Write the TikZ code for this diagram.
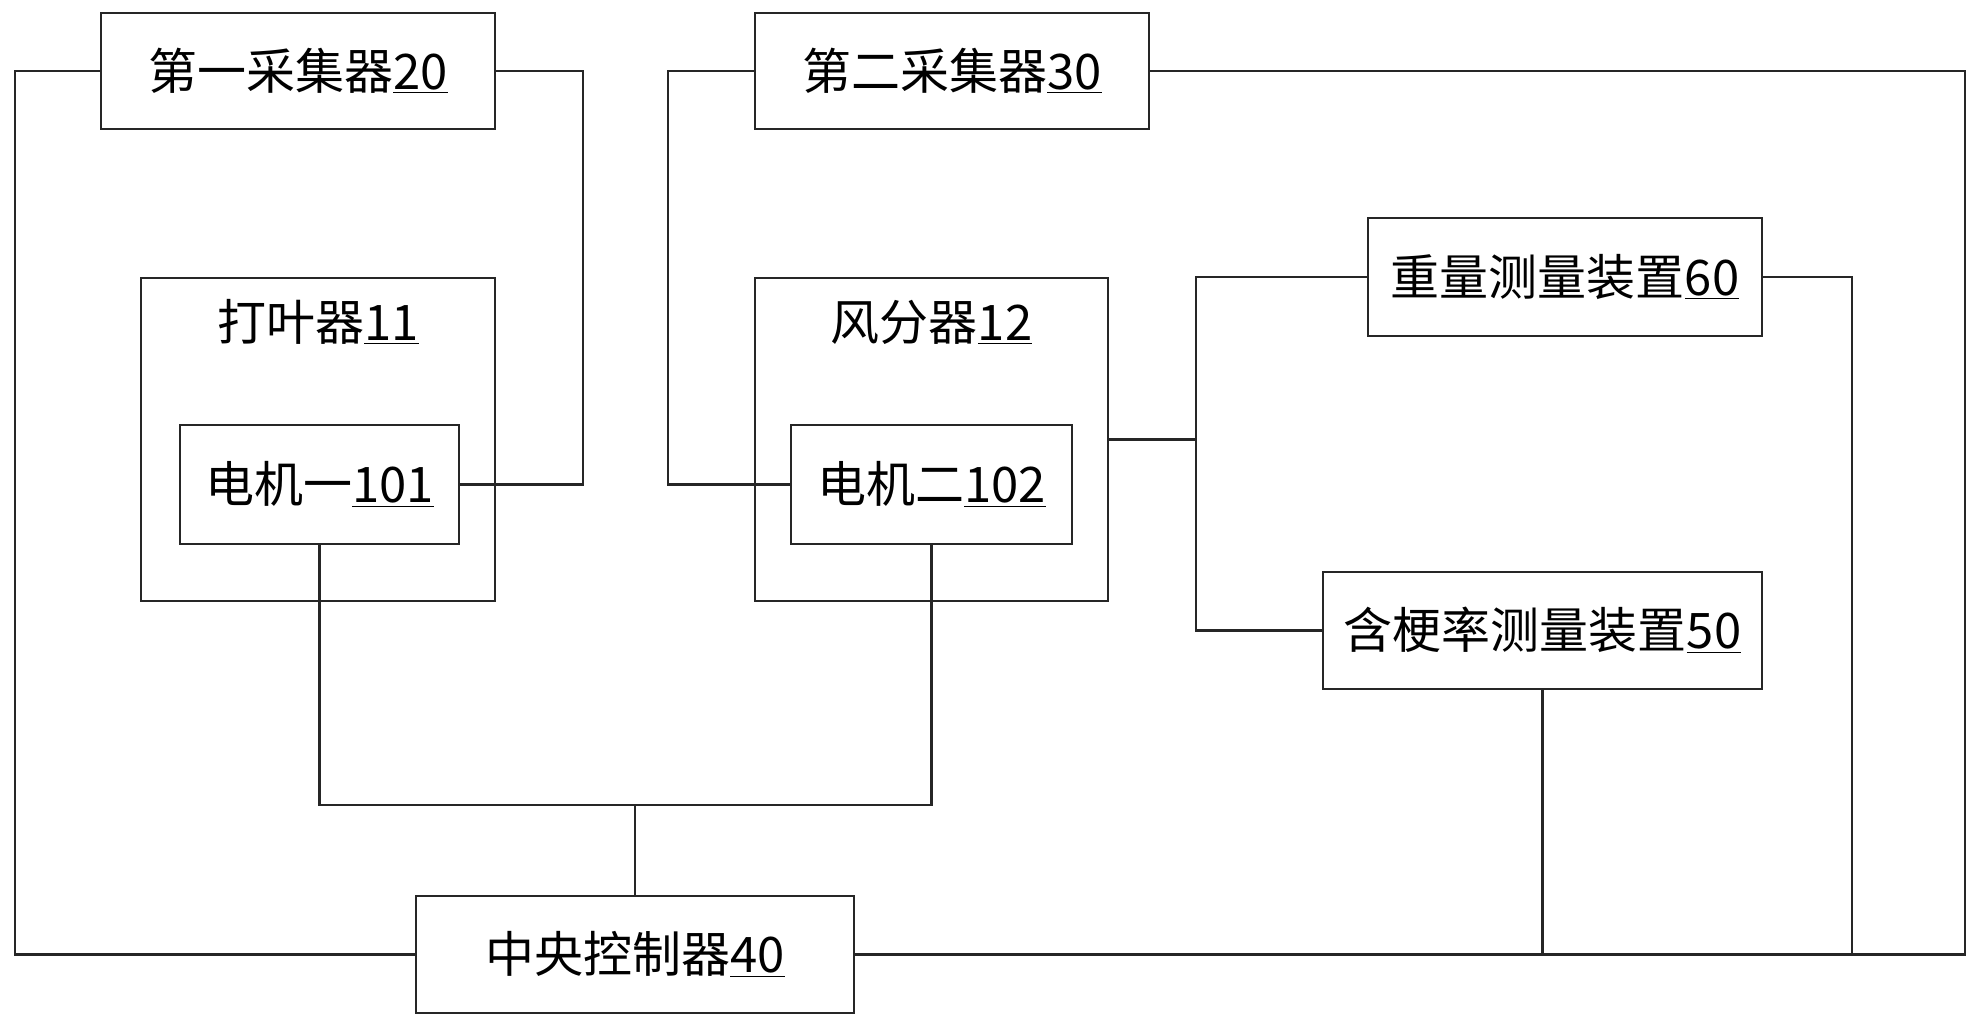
\documentclass[tikz,border=0pt]{standalone}
\usepackage{fontspec}
\setmainfont{Noto Sans CJK SC}
\begin{document}
\begin{tikzpicture}[x=0.5pt,y=-0.5pt,
  box/.style={draw=black!85,line width=1.3pt,rectangle,inner sep=0pt,fill=white,
    font=\fontsize{24.5}{28}\selectfont},
  wire/.style={draw=black!85,line width=1.1pt},
  lbl/.style={inner sep=0pt,font=\fontsize{24.5}{28}\selectfont}]
\useasboundingbox (0,0) rectangle (1979,1027);
\fill[white] (0,0) rectangle (1979,1027);
% containers
\node[box,minimum width=177pt,minimum height=161.5pt] (b11) at (318,439.5) {};
\node[box,minimum width=176.5pt,minimum height=161.5pt] (b12) at (931.5,439.5) {};
\node[lbl] (t11) at (318,322) {打叶器\underline{11}};
\node[lbl] (t12) at (931.5,322) {风分器\underline{12}};
% boxes
\node[box,minimum width=197pt,minimum height=58pt] (c20) at (298,71) {第一采集器\underline{20}};
\node[box,minimum width=197pt,minimum height=58pt] (c30) at (952,71) {第二采集器\underline{30}};
\node[box,minimum width=139.5pt,minimum height=59.5pt] (m101) at (319.5,484.5) {电机一\underline{101}};
\node[box,minimum width=140.5pt,minimum height=59.5pt] (m102) at (931.5,484.5) {电机二\underline{102}};
\node[box,minimum width=197pt,minimum height=59pt] (w60) at (1565,277) {重量测量装置\underline{60}};
\node[box,minimum width=219.5pt,minimum height=58.5pt] (s50) at (1542.5,630.5) {含梗率测量装置\underline{50}};
\node[box,minimum width=219pt,minimum height=58.5pt] (c40) at (635,954.5) {中央控制器\underline{40}};
% junction coordinates
\coordinate (L) at (15,954.5);
\coordinate (R) at (1965,954.5);
\coordinate (A) at (583,484.5);
\coordinate (C) at (668,484.5);
\coordinate (J) at (1196,439.5);
\coordinate (K) at (1852,954.5);
\coordinate (B) at (635,805);
% connectors
\draw[wire] (c20.west) -| (L) -- (c40.west);
\draw[wire] (c20.east) -| (A) -- (m101.east);
\draw[wire] (c30.west) -| (C) -- (m102.west);
\draw[wire] (c30.east) -| (R) -- (c40.east);
\draw[wire,line width=1.8pt] (c40.east) -- (K);
\draw[wire,line width=1.8pt] (b12.east) -- (J);
\draw[wire] (w60.west) -| (J) |- (s50.west);
\draw[wire] (w60.east) -| (K);
\draw[wire] (s50.south) -- (s50.south |- c40.east);
\draw[wire] (m101.south) |- (B) -| (m102.south);
\draw[wire] (B) -- (c40.north);
\end{tikzpicture}
\end{document}
